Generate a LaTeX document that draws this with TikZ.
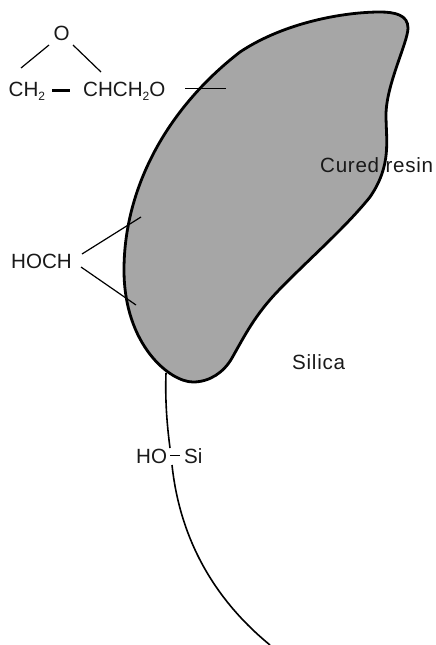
\documentclass[tikz,border=0pt]{standalone}
\usepackage{fontspec}
\setmainfont{Liberation Sans}
\newcommand{\subtwo}{\raisebox{-0.22em}{\fontsize{12}{12}\selectfont 2}}
\tikzset{
  label text/.style={anchor=base west,inner sep=0pt,font=\fontsize{20.6}{22}\selectfont,text=black!90},
  wide text/.style={label text,font=\fontsize{20.6}{22}\selectfont\addfontfeature{LetterSpace=3.5}},
  thin bond/.style={line width=1.2pt,black},
  blob/.style={fill=black!35,draw=black,line width=2.8pt},
}
\begin{document}
\begin{tikzpicture}[x=1pt,y=-1pt]
\useasboundingbox (0,0) rectangle (436,645);
\path[blob] (380,12)
  .. controls (395,12) and (408,15) .. (408,28)
  .. controls (408,42) and (386,85) .. (386,115)
  .. controls (386,140) and (392,165) .. (370,197)
  .. controls (345,228) and (310,258) .. (278,291)
  .. controls (255,315) and (245,335) .. (232,358)
  .. controls (224,372) and (210,382) .. (193,382)
  .. controls (170,382) and (124,345) .. (124,270)
  .. controls (124,190) and (165,110) .. (240,52)
  .. controls (285,22) and (345,12) .. (380,12) -- cycle;
% labels
\node[label text] (ox) at (53.5,40.5) {O};
\node[label text] (ch2) at (8.5,96) {CH\subtwo};
\node[label text] (chch2o) at (83,96) {CHCH\subtwo O};
\node[label text] (hoch) at (11,268) {HOCH};
\node[label text] (ho) at (136,463) {HO};
\node[label text] (si) at (184,463) {Si};
\node[wide text] (silica) at (292,369) {Silica};
\node[wide text] (resin) at (320,172) {Cured resin};
% named end points
\coordinate (e1) at (21,68); \coordinate (e2) at (49,45);
\coordinate (e3) at (73,45); \coordinate (e4) at (101,72);
\coordinate (d1) at (52,90); \coordinate (d2) at (70,90);
\coordinate (g1) at (185,88.5); \coordinate (g2) at (226,88.5);
\coordinate (h1) at (82,254); \coordinate (h2) at (141,217);
\coordinate (h3) at (81,267); \coordinate (h4) at (136,305);
\coordinate (s1) at (170,455.5); \coordinate (s2) at (180,455.5);
\coordinate (c1) at (166,373); \coordinate (c2) at (170,448);
\coordinate (c3) at (172,465); \coordinate (c4) at (270,645);
\draw[thin bond] (e1) -- (e2);
\draw[thin bond] (e3) -- (e4);
\draw[line width=3pt] (d1) -- (d2);
\draw[line width=0.9pt] (g1) -- (g2);
\draw[thin bond] (h1) -- (h2);
\draw[thin bond] (h3) -- (h4);
\draw[line width=0.9pt] (s1) -- (s2);
\draw[line width=1.6pt] (c1) .. controls (165,400) and (167,425) .. (c2);
\draw[line width=1.6pt] (c3) .. controls (180,540) and (215,600) .. (c4);
\end{tikzpicture}
\end{document}
